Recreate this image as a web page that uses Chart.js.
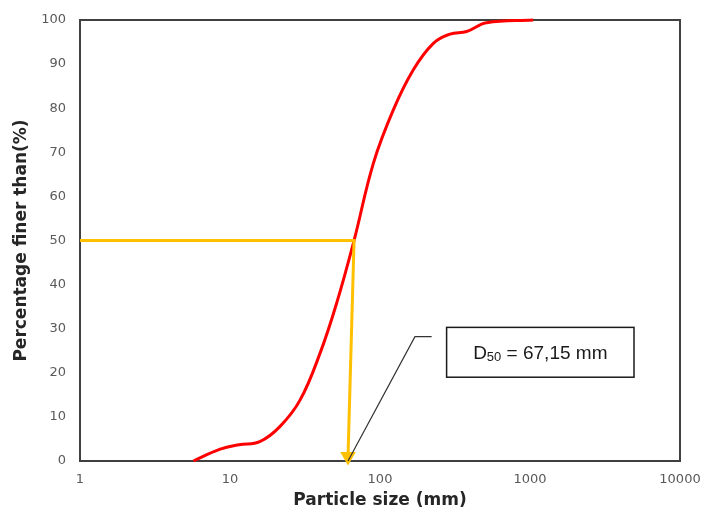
<!DOCTYPE html>
<html>
<head>
<meta charset="utf-8">
<script src="https://cdn.jsdelivr.net/npm/chart.js@4.4.1/dist/chart.umd.min.js"></script>
<style>
  html, body { margin: 0; padding: 0; background: #fff; }
  #wrap { width: 705px; height: 514px; }
</style>
</head>
<body>
<div id="wrap"><canvas id="grading" width="705" height="514"></canvas></div>
<script>
// grain size curve
const particleSize = [5.7, 8.6, 11.5, 15.8, 21.5, 29.3, 39.8, 51.4, 67.15, 90.3, 122.7, 166.8, 226.8, 293, 378, 514, 1050];
const percentFiner = [0, 2.7, 3.7, 4.4, 7.8, 13.8, 24.4, 35.8, 50, 67.5, 79.6, 88.7, 94.7, 96.8, 97.4, 99.4, 100];

// D50 guide line (orange) and leader line to the label box
const d50Sizes = [1, 67.15, 61.2];
const d50Finer = [50, 50, 1];
const leaderSizes = [61.2, 171, 221];
const leaderFiner = [0, 28.2, 28.2];

const xTicks = [1, 10, 100, 1000, 10000];
const yTicks = [0, 10, 20, 30, 40, 50, 60, 70, 80, 90, 100];

const labelBox = { x0: 278, x1: 4936, y0: 30.3, y1: 19.0 };

function toPoints(xs, ys) {
  return xs.map((x, i) => ({ x: x, y: ys[i] }));
}

const ctx = document.getElementById('grading').getContext('2d');

// frame around plot + D50 text box
const framePlugin = {
  id: 'frame',
  beforeDatasetsDraw(chart) {
    const a = chart.chartArea;
    const c = chart.ctx;
    c.save();
    c.strokeStyle = '#404040';
    c.lineWidth = 2;
    c.strokeRect(a.left, a.top, a.right - a.left, a.bottom - a.top);
    c.restore();
  },
  afterDatasetsDraw(chart) {
    const c = chart.ctx;
    const xs = chart.scales.x, ys = chart.scales.y;
    const l = xs.getPixelForValue(labelBox.x0), r = xs.getPixelForValue(labelBox.x1);
    const t = ys.getPixelForValue(labelBox.y0), b = ys.getPixelForValue(labelBox.y1);
    c.save();
    c.fillStyle = '#fff';
    c.fillRect(l, t, r - l, b - t);
    c.strokeStyle = '#1a1a1a';
    c.lineWidth = 1.5;
    c.strokeRect(l, t, r - l, b - t);

    const big = '19px "Liberation Sans", Arial, sans-serif';
    const small = '13px "Liberation Sans", Arial, sans-serif';
    c.font = big;
    const wD = c.measureText('D').width;
    const wRest = c.measureText(' = 67,15 mm').width;
    c.font = small;
    const wSub = c.measureText('50').width;
    let x = (l + r) / 2 - (wD + wSub + wRest) / 2;
    const y = (t + b) / 2 + 7;
    c.fillStyle = '#1a1a1a';
    c.textBaseline = 'alphabetic';
    c.font = big;
    c.fillText('D', x, y);
    x += wD;
    c.font = small;
    c.fillText('50', x, y + 2);
    x += wSub;
    c.font = big;
    c.fillText(' = 67,15 mm', x, y);
    c.restore();
  }
};

new Chart(ctx, {
  type: 'scatter',
  data: {
    datasets: [
      {
        label: 'leader',
        data: toPoints(leaderSizes, leaderFiner),
        showLine: true,
        borderColor: '#333333',
        borderWidth: 1.2,
        pointRadius: 0,
        tension: 0,
        clip: false
      },
      {
        label: 'D50',
        data: toPoints(d50Sizes, d50Finer),
        showLine: true,
        borderColor: '#FFC000',
        backgroundColor: '#FFC000',
        borderWidth: 3,
        pointRadius: [0, 0, 6],
        pointStyle: 'triangle',
        rotation: 180,
        tension: 0,
        clip: false
      },
      {
        label: 'Grading',
        data: toPoints(particleSize, percentFiner),
        showLine: true,
        borderColor: '#FF0000',
        borderWidth: 3,
        pointRadius: 0,
        tension: 0.4,
        clip: false
      }
    ]
  },
  options: {
    responsive: false,
    animation: false,
    layout: { padding: { left: 0, right: 25, top: 20, bottom: 0 } },
    plugins: {
      legend: { display: false },
      tooltip: { enabled: false }
    },
    scales: {
      x: {
        type: 'logarithmic',
        min: 1,
        max: 10000,
        afterBuildTicks: (s) => { s.ticks = xTicks.map(v => ({ value: v })); },
        afterFit: (s) => { s.height = 53; s.paddingLeft = 0; s.paddingRight = 0; },
        grid: { display: false, drawTicks: false },
        border: { display: false },
        ticks: {
          padding: 11,
          color: '#595959',
          font: { family: '"DejaVu Sans", sans-serif', size: 13 },
          maxRotation: 0,
          callback: (v) => String(v)
        },
        title: {
          display: true,
          text: 'Particle size (mm)',
          color: '#262626',
          font: { family: '"DejaVu Sans", sans-serif', size: 17, weight: 'bold' },
          padding: { top: 0, bottom: 3 }
        }
      },
      y: {
        min: 0,
        max: 100,
        afterBuildTicks: (s) => { s.ticks = yTicks.map(v => ({ value: v })); },
        afterFit: (s) => { s.width = 80; s.paddingTop = 0; s.paddingBottom = 0; },
        grid: { display: false, drawTicks: false },
        border: { display: false },
        ticks: {
          padding: 14,
          color: '#595959',
          font: { family: '"DejaVu Sans", sans-serif', size: 13 }
        },
        title: {
          display: true,
          text: 'Percentage finer than(%)',
          color: '#262626',
          font: { family: '"DejaVu Sans", sans-serif', size: 17, weight: 'bold' },
          padding: { top: 11, bottom: 0 }
        }
      }
    }
  },
  plugins: [framePlugin]
});
</script>
</body>
</html>
